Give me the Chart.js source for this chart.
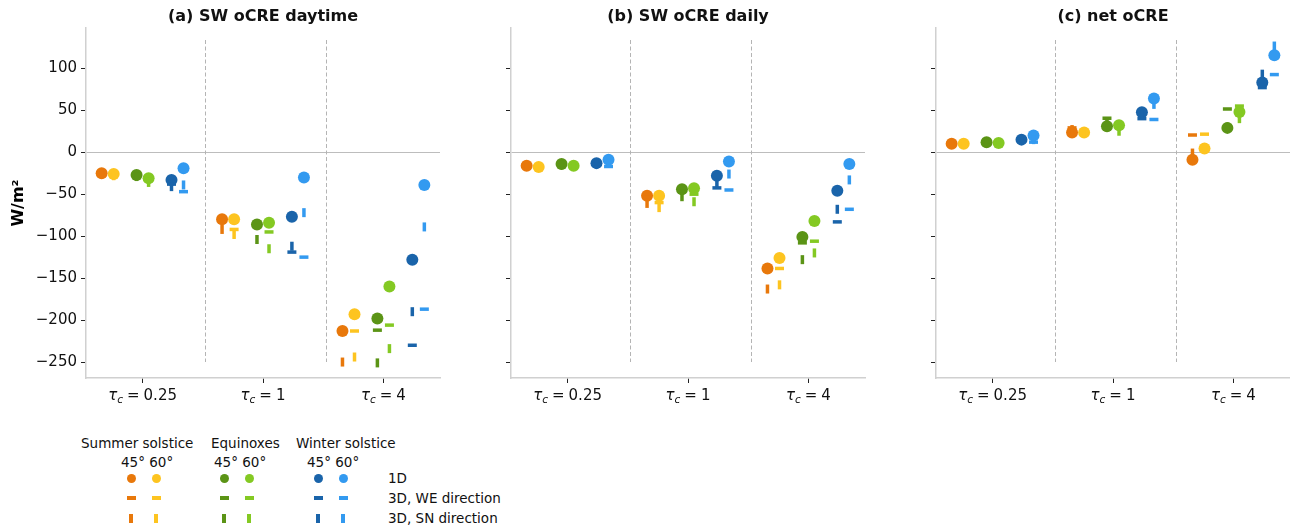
<!DOCTYPE html>
<html>
<head>
<meta charset="utf-8">
<script src="https://cdn.jsdelivr.net/npm/chart.js@4.4.1/dist/chart.umd.min.js"></script>
<style>
  body { margin:0; width:1290px; height:527px; background:#fff; position:relative; overflow:hidden; font-family:'DejaVu Sans', sans-serif; color:#111; }
  .panel { position:absolute; top:0; width:450px; height:410px; }
  .ptitle { position:absolute; top:6px; width:354px; text-align:center; font-weight:bold; font-size:16px; line-height:20px; color:#111; }
  .lg { position:absolute; font-size:13.5px; line-height:16px; white-space:nowrap; color:#111; }
  .mk { position:absolute; }
</style>
</head>
<body>

<div class="panel" style="left:0px"><canvas id="chartA"></canvas></div>
<div class="panel" style="left:425px"><canvas id="chartB"></canvas></div>
<div class="panel" style="left:850px"><canvas id="chartC"></canvas></div>
<div class="ptitle" style="left:86px">(a) SW oCRE daytime</div>
<div class="ptitle" style="left:511px">(b) SW oCRE daily</div>
<div class="ptitle" style="left:936px">(c) net oCRE</div>
<div id="legend"></div>

<script>
// categories / labels
const tauPos = [0, 1, 2];
const tauText = ['0.25', '1', '4'];
const seasons = ['Summer solstice', 'Equinoxes', 'Winter solstice'];
const angles = ['45°', '60°'];
const kindNames = ['1D', '3D, WE direction', '3D, SN direction'];
const yTicks = [-250, -200, -150, -100, -50, 0, 50, 100];

// order: summer45, summer60, equinox45, equinox60, winter45, winter60
const colores = ['#e8780b', '#fdc420', '#5b9416', '#84c923', '#1a64aa', '#339af0'];
const offsets = [-0.34, -0.24, -0.05, 0.05, 0.24, 0.34];
const divisiones = [0.52, 1.52];

// (a) SW oCRE daytime  -> [tau 0.25, tau 1, tau 4]
const dia1D = [[-25, -80, -213], [-26, -80, -193], [-27, -86, -198], [-31, -84, -160], [-33, -77, -128], [-19, -30, -39]];
const diaWE = [[-25, -81, -213], [-27, -92, -213], [-28, -87, -212], [-32, -95, -206], [-38, -119, -230], [-47, -125, -187]];
const diaSN = [[-26, -92, -250], [-28, -98, -244], [-29, -104, -251], [-36, -115, -234], [-41, -112, -190], [-39, -72, -89]];

// (b) SW oCRE daily
const diario1D = [[-16, -52, -138.5], [-17.5, -52, -126], [-14, -44, -101], [-16, -43, -82], [-13, -28, -46], [-9, -11, -14]];
const diarioWE = [[-16, -54, -139], [-18, -60, -138.5], [-15, -46, -108], [-17, -50, -106], [-14, -42.5, -83], [-17, -45, -68]];
const diarioSN = [[-17, -61, -163], [-18, -66, -158], [-15, -53, -128], [-17, -59, -120], [-14, -37, -68], [-13, -26, -33]];

// (c) net oCRE
const neto1D = [[10, 23.5, -9], [10, 23.5, 4.5], [12, 31, 29], [11, 32, 48], [15, 47.5, 83], [20, 64, 115.5]];
const netoWE = [[10, 29, 20.5], [10, 23, 21.5], [12, 40.5, 51.5], [11, 31, 55], [15, 40, 77], [12, 39, 92.5]];
const netoSN = [[10, 27, -1], [10, 23, 5], [12, 36, 30], [11, 25, 40], [15, 44, 93], [15, 57, 126.5]];

const fuente = "'DejaVu Sans', sans-serif";

// lineas verticales punteadas entre categorias
const lineasDiv = {
  id: 'lineasDiv',
  beforeDatasetsDraw(chart) {
    const {ctx, chartArea, scales} = chart;
    ctx.save();
    ctx.strokeStyle = '#b4b4b4';
    ctx.lineWidth = 1;
    ctx.setLineDash([4, 2.5]);
    divisiones.forEach(v => {
      const px = Math.round(scales.x.getPixelForValue(v)) + 0.5;
      ctx.beginPath();
      ctx.moveTo(px, chartArea.top + 12);
      ctx.lineTo(px, chartArea.bottom - 16);
      ctx.stroke();
    });
    ctx.restore();
  }
};

// etiquetas del eje x con subindice (tau_c = ...)
const etiquetasTau = {
  id: 'etiquetasTau',
  afterDraw(chart) {
    const {ctx, chartArea, scales} = chart;
    const y = chartArea.bottom + 18;
    ctx.save();
    ctx.fillStyle = '#111';
    ctx.textBaseline = 'middle';
    ctx.textAlign = 'left';
    tauPos.forEach((t, i) => {
      const partes = [
        {txt: 'τ', font: 'italic 15px ' + fuente, dy: 0, gap: 0},
        {txt: 'c', font: 'italic 10.5px ' + fuente, dy: 4, gap: 4},
        {txt: '=', font: '15px ' + fuente, dy: 0, gap: 4},
        {txt: tauText[i], font: '15px ' + fuente, dy: 0, gap: 0}
      ];
      let total = 0;
      partes.forEach(p => { ctx.font = p.font; p.w = ctx.measureText(p.txt).width; total += p.w + p.gap; });
      let x0 = scales.x.getPixelForValue(t) - total / 2;
      partes.forEach(p => { ctx.font = p.font; ctx.fillText(p.txt, x0, y + p.dy); x0 += p.w + p.gap; });
    });
    ctx.restore();
  }
};

function armarDatasets(d1, dWE, dSN) {
  const tipos = [
    {datos: dSN, estilo: 'line', radio: 4.5, rot: 90, borde: 3.5},
    {datos: dWE, estilo: 'line', radio: 4.5, rot: 0, borde: 3.5},
    {datos: d1, estilo: 'circle', radio: 6, rot: 0, borde: 0}
  ];
  const ds = [];
  for (let s = colores.length - 1; s >= 0; s--) {
    tipos.forEach(tp => {
      ds.push({
        data: tauPos.map((t, i) => ({x: t + offsets[s], y: tp.datos[s][i]})),
        showLine: false,
        pointStyle: tp.estilo,
        pointRadius: tp.radio,
        pointHoverRadius: tp.radio,
        pointRotation: tp.rot,
        pointBackgroundColor: colores[s],
        pointBorderColor: colores[s],
        pointBorderWidth: tp.borde,
        clip: false
      });
    });
  }
  return ds;
}

function grafico(id, d1, dWE, dSN, conEtiquetas) {
  new Chart(document.getElementById(id), {
    type: 'scatter',
    data: {datasets: armarDatasets(d1, dWE, dSN)},
    plugins: [lineasDiv, etiquetasTau],
    options: {
      responsive: true,
      maintainAspectRatio: false,
      animation: false,
      events: [],
      layout: {padding: {top: 28, right: 10, left: 0, bottom: 0}},
      plugins: {legend: {display: false}, tooltip: {enabled: false}},
      scales: {
        x: {
          type: 'linear', min: -0.47, max: 2.47,
          afterBuildTicks: sc => { sc.ticks = tauPos.map(v => ({value: v})); },
          afterFit: sc => { sc.height = 32; },
          ticks: {callback: () => '', font: {size: 15, family: fuente}},
          grid: {drawOnChartArea: false, tickLength: 5, tickColor: '#222', tickWidth: 1},
          border: {color: '#d0d0d0', width: 1.5}
        },
        y: {
          min: -269, max: 148,
          afterBuildTicks: sc => { sc.ticks = yTicks.map(v => ({value: v})); },
          afterFit: sc => { sc.width = 86; },
          ticks: {
            callback: v => conEtiquetas ? (v < 0 ? '\u2212' + Math.abs(v) : String(v)) : '',
            font: {size: 15, family: fuente}, color: '#111', padding: 4
          },
          grid: {
            color: c => (c.tick && c.tick.value === 0) ? '#bdbdbd' : 'rgba(0,0,0,0)',
            lineWidth: 1, tickLength: 5, tickColor: '#222', tickWidth: 1
          },
          border: {color: '#d0d0d0', width: 1.5},
          title: {
            display: conEtiquetas, text: 'W/m²', color: '#000',
            font: {size: 16, weight: 'bold', family: fuente}, padding: {top: 9, bottom: 0}
          }
        }
      }
    }
  });
}

grafico('chartA', dia1D, diaWE, diaSN, true);
grafico('chartB', diario1D, diarioWE, diarioSN, false);
grafico('chartC', neto1D, netoWE, netoSN, false);

// leyenda hecha a mano (como en la figura original)
function leyenda() {
  const cont = document.getElementById('legend');
  const textoX = [81, 211, 296];
  const angX = [121, 214, 307];
  const mkX = [131, 156, 224, 249, 318, 343];
  const filasY = [478, 498, 518];
  let html = '';
  seasons.forEach((s, i) => {
    html += `<div class="lg" style="left:${textoX[i]}px;top:435px">${s}</div>`;
    html += `<div class="lg" style="left:${angX[i]}px;top:454px">${angles[0]} ${angles[1]}</div>`;
  });
  colores.forEach((c, i) => {
    const x = mkX[i];
    html += `<div class="mk" style="left:${x - 4.5}px;top:${filasY[0] - 4.5}px;width:9px;height:9px;border-radius:50%;background:${c}"></div>`;
    html += `<div class="mk" style="left:${x - 4.5}px;top:${filasY[1] - 1.75}px;width:9px;height:3.5px;background:${c}"></div>`;
    html += `<div class="mk" style="left:${x - 1.75}px;top:${filasY[2] - 4.5}px;width:3.5px;height:9px;background:${c}"></div>`;
  });
  kindNames.forEach((k, i) => {
    html += `<div class="lg" style="left:388px;top:${filasY[i] - 8}px">${k}</div>`;
  });
  cont.innerHTML = html;
}
leyenda();
</script>
</body>
</html>
